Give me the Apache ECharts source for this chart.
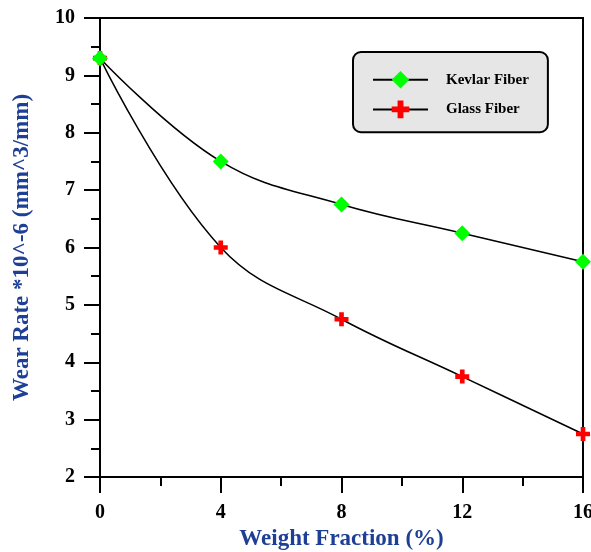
<!DOCTYPE html>
<html><head><meta charset="utf-8">
<script src="https://cdn.jsdelivr.net/npm/echarts@6/dist/echarts.min.js"></script>
<style>html,body{margin:0;padding:0;background:#fff}#c{width:591px;height:552px}</style>
</head><body><div id="c"></div>
<script>
var weightFraction = [0, 4, 8, 12, 16];
var kevlarWear = [9.3, 7.5, 6.75, 6.25, 5.75];
var glassWear = [9.3, 6.0, 4.75, 3.75, 2.75];
var seriesNames = ['Kevlar Fiber', 'Glass Fiber'];
var xTitle = 'Weight Fraction (%)';
var yTitle = 'Wear Rate *10^-6 (mm^3/mm)';

function pairs(xs, ys){ return xs.map(function(x,i){return [x, ys[i]];}); }
var font = '"Liberation Serif","Times New Roman",serif';
var blue = '#1d3f96';
var cross = 'path://M4,0H8V4H12V8H8V12H4V8H0V4H4Z';

var chart = echarts.init(document.getElementById('c'));
chart.setOption({
  animation: false,
  backgroundColor: '#fff',
  grid: {left: 100, top: 18, right: 8, bottom: 75, containLabel: false, outerBoundsMode: 'none',
         show: true, borderColor: '#000', borderWidth: 2, backgroundColor: 'transparent'},
  legend: {
    orient: 'vertical', left: 353, top: 52,
    data: seriesNames,
    padding: [19, 19, 14, 19],
    itemWidth: 55, itemHeight: 22, itemGap: 12,
    backgroundColor: '#e6e6e6', borderColor: '#000', borderWidth: 2, borderRadius: 8,
    textStyle: {fontFamily: font, fontWeight: 'bold', fontSize: 15, color: '#000', padding: [0,0,0,13]}
  },
  xAxis: {
    type: 'value', min: 0, max: 16, interval: 4,
    name: xTitle, nameLocation: 'middle', nameGap: 50,
    nameTextStyle: {fontFamily: font, fontWeight: 'bold', fontSize: 23, color: blue},
    axisLine: {lineStyle: {color: '#000', width: 2}},
    axisTick: {inside: false, length: 16, lineStyle: {width: 2, color: '#000'}},
    minorTick: {show: true, splitNumber: 2, length: 9, lineStyle: {width: 2, color: '#000'}},
    axisLabel: {fontFamily: font, fontWeight: 'bold', fontSize: 20, color: '#000', margin: 26},
    splitLine: {show: false}
  },
  yAxis: {
    type: 'value', min: 2, max: 10, interval: 1,
    name: yTitle, nameLocation: 'middle', nameGap: 66,
    nameTextStyle: {fontFamily: font, fontWeight: 'bold', fontSize: 23, color: blue},
    axisLine: {lineStyle: {color: '#000', width: 2}},
    axisTick: {inside: false, length: 16, lineStyle: {width: 2, color: '#000'}},
    minorTick: {show: true, splitNumber: 2, length: 9, lineStyle: {width: 2, color: '#000'}},
    axisLabel: {fontFamily: font, fontWeight: 'bold', fontSize: 20, color: '#000', margin: 25},
    splitLine: {show: false}
  },
  series: [
    {
      name: seriesNames[1], type: 'line', smooth: 0.4,
      data: pairs(weightFraction, glassWear),
      symbol: cross, symbolSize: 14, showSymbol: true,
      lineStyle: {color: '#000', width: 1.5},
      itemStyle: {color: '#ff0000', borderWidth: 0}
    },
    {
      name: seriesNames[0], type: 'line', smooth: 0.4,
      data: pairs(weightFraction, kevlarWear),
      symbol: 'diamond', symbolSize: 16, showSymbol: true,
      lineStyle: {color: '#000', width: 1.5},
      itemStyle: {color: '#00ff00', borderWidth: 0}
    }
  ]
});
</script></body></html>
